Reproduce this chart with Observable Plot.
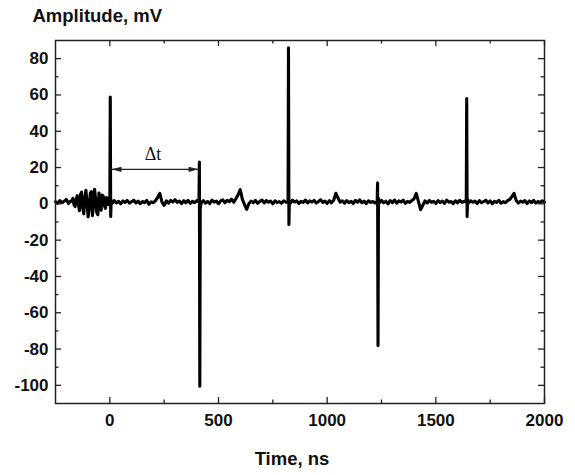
<!DOCTYPE html>
<html><head><meta charset="utf-8">
<script src="https://cdn.jsdelivr.net/npm/d3@7"></script>
<script src="https://cdn.jsdelivr.net/npm/@observablehq/plot@0.6"></script>
<style>html,body{margin:0;padding:0;background:#fff}</style>
</head><body><div id="chart"></div>
<script>
// ---- data ----
const time = [
  -250,-240,-230,-220,-210,-200,-190,-180,
  -175,-170,-165,-160,-155,-150,-145,-140,-135,-130,-125,-120,-115,-110,-105,-100,
  -95,-90,-85,-80,-75,-70,-65,-60,-55,-50,-45,-40,-35,-30,-25,-20,-15,-10,-5,
  0,2,4,6,
  10,20,30,40,50,60,70,80,90,100,
  110,120,130,140,150,160,170,180,190,200,
  210,220,230,240,250,260,270,280,290,300,
  310,320,330,340,350,360,370,380,390,400,
  410,412,414,416,
  420,430,440,450,460,470,480,490,500,510,
  520,530,540,550,560,570,580,590,600,610,
  620,630,640,650,660,670,680,690,700,710,
  720,730,740,750,760,770,780,790,800,810,
  820,822,824,826,
  830,840,850,860,870,880,890,900,910,920,
  930,940,950,960,970,980,990,1000,1010,1020,
  1030,1040,1050,1060,1070,1080,1090,1100,1110,1120,
  1130,1140,1150,1160,1170,1180,1190,1200,1210,1220,
  1230,1232,1234,1236,
  1240,1250,1260,1270,1280,1290,1300,1310,1320,1330,
  1340,1350,1360,1370,1380,1390,1400,1410,1420,1430,
  1440,1450,1460,1470,1480,1490,1500,1510,1520,1530,
  1540,1550,1560,1570,1580,1590,1600,1610,1620,1630,
  1640,1642,1644,1646,
  1650,1660,1670,1680,1690,1700,1710,1720,1730,1740,
  1750,1760,1770,1780,1790,1800,1810,1820,1830,1840,
  1850,1860,1870,1880,1890,1900,1910,1920,1930,1940,
  1950,1960,1970,1980,1990,2000
];
const amplitude = [
  1.2,0.3,1.8,0.6,1.5,2.4,0.2,1.6,
  1.5,3.0,-0.5,-1.5,2.5,4.5,0.0,-3.8,5.2,6.5,-2.0,-5.5,3.0,7.5,1.0,-7.2,
  -2.5,5.8,6.8,-6.5,-1.0,8.0,2.0,-4.8,-6.0,6.0,1.5,-3.5,4.8,4.2,-1.0,-2.5,3.5,3.0,-0.5,
  1.0,58.8,-7.0,2.0,
  0.2,1.8,0.5,1.4,0.0,1.6,0.8,1.9,0.4,1.2,
  2.0,0.5,1.5,0.1,1.3,0.7,1.9,-0.2,1.1,0.6,
  1.8,3.5,5.8,1.0,-0.8,1.6,0.4,1.9,1.0,2.3,
  0.8,1.5,0.2,1.7,0.6,1.9,0.3,1.4,0.7,1.8,
  1.0,23,-100.5,-2.5,
  0.5,1.8,0.4,1.3,0.2,2.0,0.9,1.5,0.1,1.6,
  2.2,0.6,1.9,1.2,2.6,0.9,2.8,5.0,7.8,2.5,
  -0.5,-3.0,0.2,1.5,0.6,1.9,0.3,1.4,2.1,0.5,
  1.8,0.9,1.5,0.0,1.7,0.8,1.2,0.4,1.6,0.9,
  1.2,86,-11.4,1.5,
  0.3,2.0,1.0,1.6,0.2,1.4,0.8,2.1,0.5,1.6,
  1.0,1.9,0.4,1.3,2.2,0.8,1.5,0.3,1.7,0.6,
  2.0,5.8,3.2,0.9,1.6,0.4,1.8,0.7,1.4,0.2,
  1.9,0.9,2.2,0.6,1.5,0.1,1.7,0.8,1.3,0.5,
  1.2,11.6,-78,3.0,
  0.4,1.9,0.6,1.5,0.0,1.8,0.7,2.1,0.4,1.6,
  1.0,2.0,0.3,1.4,0.8,1.9,2.8,5.8,1.2,-3.2,
  -0.8,1.6,0.5,1.9,0.9,1.4,0.2,1.8,0.7,1.5,
  0.3,2.0,0.9,1.3,0.1,1.7,0.6,1.9,0.8,1.4,
  1.0,58,-7,2.5,
  0.4,1.7,0.9,1.5,0.2,1.8,0.6,1.3,2.0,0.5,
  1.6,0.1,1.4,0.8,1.9,0.3,1.2,0.6,1.8,2.4,
  4.0,5.8,1.8,0.4,1.5,0.9,1.8,0.2,1.6,0.7,
  1.9,0.4,1.3,0.8,1.7,0.9
];
const xDomain = [-250, 2000];
const yDomain = [-110, 90];
const xMajorTicks = [0, 500, 1000, 1500, 2000];
const xMinorTicks = [250, 750, 1250, 1750];
const yMajorTicks = [-100, -80, -60, -40, -20, 0, 20, 40, 60, 80];
const yMinorTicks = [-90, -70, -50, -30, -10, 10, 30, 50, 70];
const deltaStart = 3;     // ns, first pulse
const deltaEnd = 413;     // ns, second pulse
const deltaLevel = 19;    // mV, height of the Δt arrow
const deltaLabel = "Δt";
const xTitle = "Time, ns";
const yTitle = "Amplitude, mV";

// ---- layout ----
const W = 575, H = 475, mL = 55, mR = 31, mT = 40, mB = 72;
const frameW = W - mL - mR, frameH = H - mT - mB;
const ink = "#111";

const trace = time.map((t, i) => ({t, v: amplitude[i]}));

const arrowHead = {
  draw(ctx) { // tip at origin, pointing right
    ctx.moveTo(-1, 0);
    ctx.lineTo(-11, -2.6);
    ctx.lineTo(-11, 2.6);
    ctx.closePath();
  }
};

const chart = Plot.plot({
  width: W, height: H,
  marginLeft: mL, marginRight: mR, marginTop: mT, marginBottom: mB,
  style: {fontFamily: "'Liberation Sans', Arial, Helvetica, sans-serif", color: ink, background: "#fff"},
  x: {domain: xDomain, label: null},
  y: {domain: yDomain, label: null},
  marks: [
    Plot.line(trace, {x: "t", y: "v", stroke: "#000", strokeWidth: 3.1, strokeLinejoin: "round", strokeLinecap: "round"}),
    // Δt annotation
    Plot.link([{x1: deltaStart, x2: deltaEnd}], {x1: "x1", x2: "x2", y1: () => deltaLevel, y2: () => deltaLevel, stroke: "#222", strokeWidth: 1.1}),
    Plot.dot([{x: deltaStart, r: 180}, {x: deltaEnd, r: 0}], {x: "x", y: () => deltaLevel, rotate: "r", symbol: arrowHead, fill: "#222", stroke: "none"}),
    Plot.text([deltaLabel], {x: () => (deltaStart + deltaEnd) / 2, y: () => deltaLevel, dx: -2, dy: -9, lineAnchor: "bottom", fontFamily: "'Liberation Serif', 'Times New Roman', serif", fontSize: 18, fontWeight: "normal", fill: "#111"}),
    // frame + inward ticks
    Plot.frame({stroke: "#222", strokeWidth: 1.5}),
    Plot.tickX(xMajorTicks, {x: d => d, insetTop: frameH - 6, stroke: "#222", strokeWidth: 1.3}),
    Plot.tickX(xMajorTicks, {x: d => d, insetBottom: frameH - 6, stroke: "#222", strokeWidth: 1.3}),
    Plot.tickX(xMinorTicks, {x: d => d, insetTop: frameH - 3.5, stroke: "#222", strokeWidth: 1.3}),
    Plot.tickX(xMinorTicks, {x: d => d, insetBottom: frameH - 3.5, stroke: "#222", strokeWidth: 1.3}),
    Plot.tickY(yMajorTicks, {y: d => d, insetRight: frameW - 6, stroke: "#222", strokeWidth: 1.3}),
    Plot.tickY(yMajorTicks, {y: d => d, insetLeft: frameW - 6, stroke: "#222", strokeWidth: 1.3}),
    Plot.tickY(yMinorTicks, {y: d => d, insetRight: frameW - 3.5, stroke: "#222", strokeWidth: 1.3}),
    Plot.tickY(yMinorTicks, {y: d => d, insetLeft: frameW - 3.5, stroke: "#222", strokeWidth: 1.3}),
    // tick labels
    Plot.axisX({ticks: xMajorTicks, tickSize: 0, tickPadding: 10, tickFormat: d => String(d), label: null, fontSize: 17, fontWeight: "bold"}),
    Plot.axisY({ticks: yMajorTicks, tickSize: 0, tickPadding: 7, tickFormat: d => String(d), label: null, fontSize: 17, fontWeight: "bold"}),
    // axis titles
    Plot.text([yTitle], {frameAnchor: "top-left", dx: -23, dy: -19, textAnchor: "start", lineAnchor: "bottom", fontSize: 18.5, fontWeight: "bold"}),
    Plot.text([xTitle], {frameAnchor: "bottom", dx: -8, dy: 61, lineAnchor: "bottom", fontSize: 18.5, fontWeight: "bold"})
  ]
});
document.getElementById("chart").appendChild(chart);
</script>
</body></html>
